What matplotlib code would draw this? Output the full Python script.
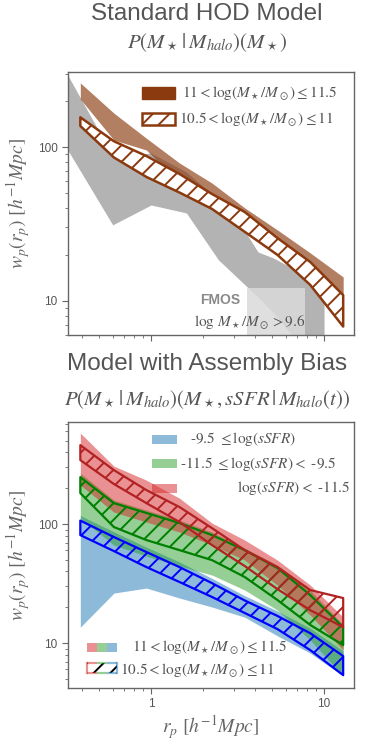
import matplotlib.pyplot as plt
from matplotlib.patches import Rectangle

plt.rcParams['mathtext.fontset'] = 'stix'
plt.rcParams['font.family'] = ['Liberation Sans', 'DejaVu Sans']
plt.rcParams['hatch.linewidth'] = 1.4

GREY_TXT = '#555555'
BROWN = '#8B3A0F'

# r_p bins shared by the model bands
rp = [0.39, 0.61, 0.94, 1.46, 2.25, 3.48, 5.38, 8.32, 12.9]

# --- top panel: standard HOD ---
hod_hi_upper = [261, 166, 114, 78.7, 58.3, 40.2, 28.9, 20.5, 14.3]
hod_hi_lower = [205, 111, 95.6, 58.4, 44.5, 32.6, 22.7, 15.2, 10.2]
hod_lo_upper = [156, 109, 87.4, 66.8, 49.5, 37.8, 25.6, 17.9, 10.9]
hod_lo_lower = [137, 85.5, 63.9, 50.6, 39.6, 28.1, 19.9, 12.7, 6.81]

# FMOS measurement band
fmos_rp = [0.33, 0.6, 1.0, 1.6, 2.45, 3.6, 4.15, 5.1, 6.5, 7.8, 10.0]
fmos_upper = [293, 87.4, 91.4, 68.8, 45.3, 26.8, 20.8, 19.0, 16.4, 14.8, 13.7]
fmos_lower = [95.6, 31.2, 42.0, 37.3, 18.5, 12.3, 10.6, 8.36, 6.0, 4.8, 4.1]
fmos_box_x = [3.6, 7.8]
fmos_box_ymax = 12.1

# --- bottom panel: assembly bias, 11 < logM < 11.5 (filled) ---
sf_upper = [118, 86, 64, 48, 35, 25, 18.6, 13.3, 8.6]
sf_lower = [13.6, 26.3, 29.0, 23.9, 20.1, 16.5, 11.5, 8.24, 5.28]
gv_upper = [268, 159, 131, 108, 85.7, 62.8, 45.2, 27.9, 14.2]
gv_lower = [112, 66.6, 53.8, 44.4, 37.3, 27.9, 18.9, 10.6, 5.28]
q_upper = [582, 307, 234, 165, 102, 73.4, 49.8, 30.7, 16.5]
q_lower = [213, 126, 104, 85.7, 66.6, 49.8, 30.7, 17.2, 8.73]

# 10.5 < logM < 11 (hatched)
sf_h_upper = [107, 77.8, 58.2, 43.5, 31.9, 22.8, 16.9, 12.1, 7.78]
sf_h_lower = [80.8, 59.3, 43.5, 32.6, 24.4, 17.9, 13.1, 8.73, 5.38]
gv_h_upper = [248, 150, 124, 102, 80.8, 60.4, 42.7, 25.3, 13.6]
gv_h_lower = [182, 94.4, 73.4, 60.4, 49.8, 35.9, 23.0, 14.2, 9.62]
q_h_upper = [461, 284, 193, 139, 92.5, 60.4, 43.5, 27.9, 23.9]
q_h_lower = [345, 217, 150, 104, 66.6, 44.4, 28.4, 18.9, 13.6]

XLIM = (0.331, 14.9)


def style_axes(ax, ylim, show_xlabels):
    ax.set_xscale('log')
    ax.set_yscale('log')
    ax.set_xlim(*XLIM)
    ax.set_ylim(*ylim)
    for s in ax.spines.values():
        s.set_color('#666666')
        s.set_linewidth(1.0)
    ax.tick_params(which='major', direction='out', length=4, width=0.8,
                   color='#666666', labelcolor=GREY_TXT, labelsize=8.5)
    ax.tick_params(which='minor', direction='out', length=2, width=0.6,
                   color='#666666')
    ax.tick_params(labelbottom=show_xlabels)
    ax.set_yticks([10, 100])
    ax.set_yticklabels(['10', '100'])
    ax.set_ylabel(r'$w_p(r_p)\ [h^{-1}Mpc]$', fontsize=14, color='#666666',
                  labelpad=4)


def patch(ax, x0, x1, y0, y1, **kw):
    ax.add_patch(Rectangle((x0, y0), x1 - x0, y1 - y0,
                           transform=ax.transAxes, clip_on=False, **kw))


fig = plt.figure(figsize=(3.73, 7.49), dpi=100)

# ================= top panel =================
ax1 = fig.add_axes([0.1823, 0.5527, 0.7668, 0.3511])
ax1.fill_between(fmos_rp, fmos_lower, fmos_upper, color='#a0a0a0', alpha=0.8,
                 lw=0, zorder=1)
ax1.add_patch(Rectangle((fmos_box_x[0], 1), fmos_box_x[1] - fmos_box_x[0],
                        fmos_box_ymax - 1, color='#dadada', alpha=0.85, lw=0,
                        zorder=2))
ax1.fill_between(rp, hod_hi_lower, hod_hi_upper, color=BROWN, alpha=0.65,
                 lw=0, zorder=3)
ax1.fill_between(rp, hod_lo_lower, hod_lo_upper, facecolor='white',
                 edgecolor=BROWN, hatch='//', lw=1.8, zorder=4)
style_axes(ax1, (6.0, 307), False)

ax1.text(0.533, 0.133, 'FMOS', transform=ax1.transAxes, ha='center',
         va='center', fontsize=10, fontweight='bold', color='#8a8a8a', zorder=5)
ax1.text(0.636, 0.05, r'$\log\,M_\star/M_\odot > 9.6$', transform=ax1.transAxes,
         ha='center', va='center', fontsize=11, color=GREY_TXT, zorder=5)

patch(ax1, 0.259, 0.374, 0.897, 0.943, facecolor=BROWN, edgecolor=BROWN, lw=1)
patch(ax1, 0.259, 0.374, 0.798, 0.844, facecolor='white', edgecolor=BROWN,
      hatch='//', lw=1.8)
ax1.text(0.399, 0.920, r'$11 < \log(M_\star/M_\odot) \leq 11.5$',
         transform=ax1.transAxes, va='center', fontsize=11, color=GREY_TXT)
ax1.text(0.388, 0.821, r'$10.5 < \log(M_\star/M_\odot) \leq 11$',
         transform=ax1.transAxes, va='center', fontsize=11, color=GREY_TXT)

# ================= bottom panel =================
ax2 = fig.add_axes([0.1823, 0.0814, 0.7668, 0.3551])
ax2.fill_between(rp, sf_lower, sf_upper, color='tab:blue', alpha=0.5, lw=0, zorder=1)
ax2.fill_between(rp, gv_lower, gv_upper, color='tab:green', alpha=0.5, lw=0, zorder=2)
ax2.fill_between(rp, q_lower, q_upper, color='tab:red', alpha=0.5, lw=0, zorder=3)
ax2.fill_between(rp, sf_h_lower, sf_h_upper, facecolor='none', edgecolor='blue',
                 hatch='//', lw=1.6, zorder=4)
ax2.fill_between(rp, gv_h_lower, gv_h_upper, facecolor='none', edgecolor='green',
                 hatch='//', lw=1.6, zorder=5)
ax2.fill_between(rp, q_h_lower, q_h_upper, facecolor='none', edgecolor='#b22222',
                 hatch='//', lw=1.6, zorder=6)
style_axes(ax2, (4.19, 720), True)
ax2.set_xticks([1, 10])
ax2.set_xticklabels(['1', '10'])
ax2.set_xlabel(r'$r_p\ [h^{-1}Mpc]$', fontsize=14, color='#666666', labelpad=2)

# sSFR legend
patch(ax2, 0.294, 0.381, 0.917, 0.951, facecolor='tab:blue', alpha=0.5, lw=0)
patch(ax2, 0.294, 0.381, 0.827, 0.861, facecolor='tab:green', alpha=0.5, lw=0)
patch(ax2, 0.294, 0.381, 0.733, 0.767, facecolor='tab:red', alpha=0.5, lw=0)
ax2.text(0.427, 0.936, r'-9.5 $\leq \log(sSFR)$', transform=ax2.transAxes,
         va='center', fontsize=11, color=GREY_TXT, family='STIXGeneral')
ax2.text(0.392, 0.842, r'-11.5 $\leq \log(sSFR) <$ -9.5', transform=ax2.transAxes,
         va='center', fontsize=11, color=GREY_TXT, family='STIXGeneral')
ax2.text(0.986, 0.752, r'$\log(sSFR) <$ -11.5', transform=ax2.transAxes,
         va='center', ha='right', fontsize=11, color=GREY_TXT,
         family='STIXGeneral')

# mass legend
w3 = (0.171 - 0.066) / 3
for i, c in enumerate(['tab:red', 'tab:green', 'tab:blue']):
    patch(ax2, 0.066 + i * w3, 0.066 + (i + 1) * w3, 0.135, 0.169,
          facecolor=c, alpha=0.5, lw=0)
patch(ax2, 0.066, 0.171, 0.056, 0.094, facecolor='white', edgecolor='black',
      hatch='//', lw=0)
for i, c in enumerate(['tab:red', 'tab:green', 'tab:blue']):
    xa, xb = 0.066 + i * w3, 0.066 + (i + 1) * w3
    ax2.plot([xa, xb], [0.056, 0.056], color=c, alpha=0.5, lw=1.6,
             transform=ax2.transAxes, clip_on=False, solid_capstyle='butt')
    ax2.plot([xa, xb], [0.094, 0.094], color=c, alpha=0.5, lw=1.6,
             transform=ax2.transAxes, clip_on=False, solid_capstyle='butt')
ax2.plot([0.066, 0.066], [0.056, 0.094], color='tab:red', alpha=0.5, lw=1.6,
         transform=ax2.transAxes, clip_on=False)
ax2.plot([0.171, 0.171], [0.056, 0.094], color='tab:blue', alpha=0.5, lw=1.6,
         transform=ax2.transAxes, clip_on=False)
ax2.text(0.224, 0.154, r'$11 < \log(M_\star/M_\odot) \leq 11.5$',
         transform=ax2.transAxes, va='center', fontsize=11, color=GREY_TXT)
ax2.text(0.182, 0.068, r'$10.5 < \log(M_\star/M_\odot) \leq 11$',
         transform=ax2.transAxes, va='center', fontsize=11, color=GREY_TXT)

# ================= titles =================
fig.text(0.555, 0.981, 'Standard HOD Model', ha='center', va='center',
         fontsize=17.5, color=GREY_TXT)
fig.text(0.555, 0.943, r'$P(M_\star\,|\,M_{halo})(M_\star)$', ha='center',
         va='center', fontsize=15, color=GREY_TXT)
fig.text(0.555, 0.514, 'Model with Assembly Bias', ha='center', va='center',
         fontsize=17.5, color=GREY_TXT)
fig.text(0.555, 0.467,
         r'$P(M_\star\,|\,M_{halo})(M_\star, sSFR\,|\,M_{halo}(t))$',
         ha='center', va='center', fontsize=15, color=GREY_TXT)

fig.savefig('out.png', dpi=100)
